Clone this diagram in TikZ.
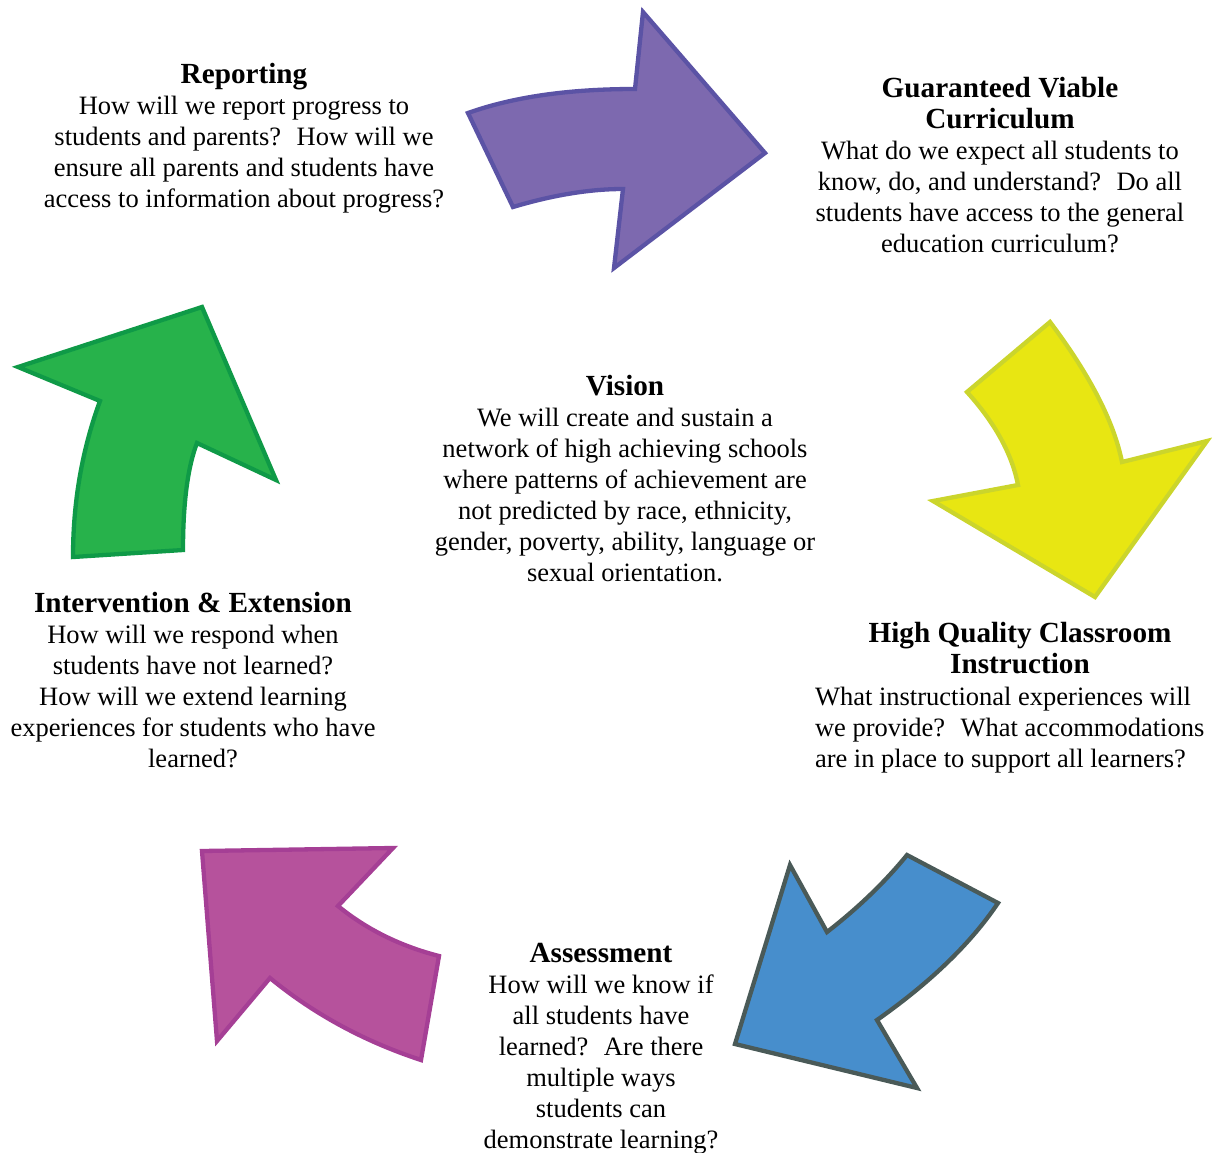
\documentclass[tikz,border=0pt]{standalone}
\usepackage{fontspec}
\setmainfont{Liberation Serif}
\definecolor{pfill}{HTML}{7D69AF}
\definecolor{pline}{HTML}{5B53A5}
\definecolor{yfill}{HTML}{E8E612}
\definecolor{yline}{HTML}{CBD52C}
\definecolor{bfill}{HTML}{478ECC}
\definecolor{bline}{HTML}{4A5A58}
\definecolor{mfill}{HTML}{B6529C}
\definecolor{mline}{HTML}{A53F95}
\definecolor{gfill}{HTML}{27B24B}
\definecolor{gline}{HTML}{0F9A47}
\newcommand{\ttl}{\bfseries\fontsize{29.2}{31}\selectfont}
\tikzset{
  arrowshape/.style={line width=4.3pt, line join=miter},
  blocktext/.style={inner sep=0pt, outer sep=0pt, align=center, anchor=base,
    font=\fontsize{26.5}{31}\selectfont},
  lefttext/.style={inner sep=0pt, outer sep=0pt, align=left, anchor=base west,
    font=\fontsize{26.5}{31}\selectfont}
}
\begin{document}
\begin{tikzpicture}[x=1pt,y=-1pt]
\useasboundingbox (0,0) rectangle (1216,1152);
% purple arrow
\draw[arrowshape, draw=pline, fill=pfill]
  (468,113) .. controls (513,97) and (568,89) .. (635,89) -- (643,12) -- (765,153)
  -- (614,268) -- (623,189) .. controls (590,189) and (553,195) .. (513,207) -- cycle;
% yellow arrow
\draw[arrowshape, draw=yline, fill=yfill]
  (1050,322) -- (967,392) .. controls (995,423) and (1012,454) .. (1018,485) -- (933,501)
  -- (1095,597) -- (1207,441) -- (1122,462) .. controls (1114,422) and (1090,375) .. (1050,322) -- cycle;
% blue arrow
\draw[arrowshape, draw=bline, fill=bfill]
  (790,865) -- (827,932) .. controls (858,908) and (885,882) .. (907,855) -- (998,903)
  .. controls (971,943) and (931,982) .. (877,1020) -- (917,1088) -- (735,1044) -- cycle;
% magenta arrow
\draw[arrowshape, draw=mline, fill=mfill]
  (202,851) -- (393,848) -- (338,906) .. controls (366,929) and (400,946) .. (439,956)
  -- (421,1060) .. controls (366,1042) and (315,1015) .. (270,978) -- (217,1041) -- cycle;
% green arrow
\draw[arrowshape, draw=gline, fill=gfill]
  (18,367) -- (202,307) -- (276,480) -- (197,443) .. controls (188,466) and (183,502) .. (183,550)
  -- (73,557) .. controls (73,502) and (82,450) .. (100,401) -- cycle;

\node[blocktext] (rep) at (244,207) {{\ttl Reporting}\\
  How will we report progress to\\
  students and parents?~ How will we\\
  ensure all parents and students have\\
  access to information about progress?};
\node[blocktext] (gvc) at (1000,252) {{\ttl Guaranteed Viable}\\
  {\ttl Curriculum}\\
  What do we expect all students to\\
  know, do, and understand?~ Do all\\
  students have access to the general\\
  education curriculum?};
\node[blocktext] (vis) at (625,581) {{\ttl Vision}\\
  We will create and sustain a\\
  network of high achieving schools\\
  where patterns of achievement are\\
  not predicted by race, ethnicity,\\
  gender, poverty, ability, language or\\
  sexual orientation.};
\node[blocktext] (int) at (193,767) {{\ttl Intervention \& Extension}\\
  How will we respond when\\
  students have not learned?\\
  How will we extend learning\\
  experiences for students who have\\
  learned?};
\node[blocktext] (hqt) at (1020,673) {{\ttl High Quality Classroom}\\
  {\ttl Instruction}};
\node[lefttext] (hqb) at (815,767) {What instructional experiences will\\
  we provide?~ What accommodations\\
  are in place to support all learners?};
\node[blocktext] (ass) at (601,1148) {{\ttl Assessment}\\
  How will we know if\\
  all students have\\
  learned?~ Are there\\
  multiple ways\\
  students can\\
  demonstrate learning?};
\end{tikzpicture}
\end{document}
